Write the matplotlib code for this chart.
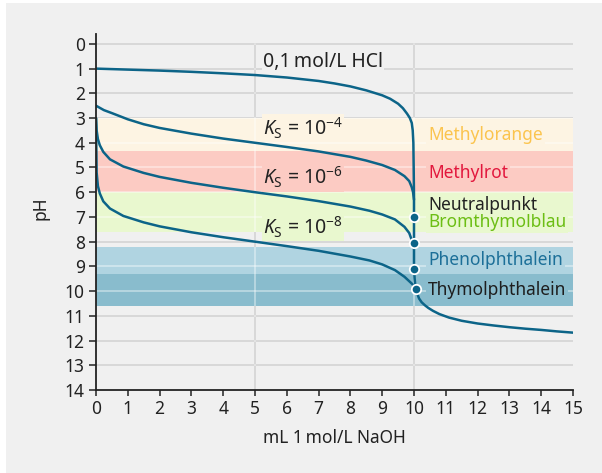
import matplotlib
matplotlib.use("Agg")
import matplotlib.pyplot as plt
from matplotlib.patches import Rectangle

plt.rcParams['font.family'] = ['Noto Sans', 'DejaVu Sans']
plt.rcParams['mathtext.fontset'] = 'custom'
plt.rcParams['mathtext.rm'] = 'Noto Sans'
plt.rcParams['mathtext.it'] = 'Noto Sans:italic'

# titration curves (mL NaOH, pH)
hcl_ml = [0, 1, 2, 3, 4, 5, 6, 7, 7.5, 8, 8.5, 9, 9.25, 9.5, 9.65, 9.78, 9.87,
          9.93, 9.96, 9.98, 9.99, 10.0, 10.0, 10.02, 10.04, 10.06, 10.1, 10.16,
          10.24, 10.35, 10.45, 10.6, 10.8, 11.1, 11.5, 12.0, 12.5, 13.0, 13.5,
          14.0, 14.5, 15.0]
hcl_ph = [1.0, 1.04, 1.08, 1.13, 1.19, 1.26, 1.36, 1.5, 1.6, 1.72, 1.88, 2.08,
          2.22, 2.42, 2.6, 2.82, 3.0, 3.2, 3.5, 4.0, 5.0, 6.2, 9.1, 9.5, 9.75,
          9.9, 10.1, 10.3, 10.45, 10.58, 10.68, 10.8, 10.93, 11.07, 11.2, 11.31,
          11.39, 11.46, 11.52, 11.57, 11.63, 11.68]

ks4_ml = [0, 0.25, 0.5, 1, 1.5, 2, 3, 4, 5, 6, 7, 8, 8.5, 9, 9.4, 9.7, 9.85,
          9.93, 9.97, 10.0]
ks4_ph = [2.5, 2.68, 2.8, 3.05, 3.25, 3.4, 3.63, 3.83, 4.0, 4.17, 4.35, 4.57,
          4.72, 4.9, 5.1, 5.35, 5.55, 5.8, 6.0, 6.3]

ks6_ml = [0, 0.02, 0.06, 0.12, 0.23, 0.44, 0.86, 1.5, 2, 3, 4, 5, 6, 7, 8,
          8.6, 9, 9.4, 9.7, 9.85, 9.92, 9.97, 10.0]
ks6_ph = [3.0, 3.5, 3.85, 4.1, 4.37, 4.67, 4.96, 5.22, 5.38, 5.62, 5.82, 6.0,
          6.17, 6.36, 6.58, 6.75, 6.9, 7.1, 7.4, 7.65, 7.9, 8.05, 8.3]

ks8_ml = [0, 0.02, 0.06, 0.12, 0.23, 0.44, 0.86, 1.5, 2, 3, 4, 5, 6, 7, 8,
          8.6, 9, 9.4, 9.7, 9.85, 9.95, 10.01, 10.06]
ks8_ph = [3.0, 5.2, 5.75, 6.05, 6.37, 6.66, 6.96, 7.22, 7.38, 7.62, 7.82, 8.0,
          8.18, 8.37, 8.6, 8.76, 8.92, 9.15, 9.42, 9.6, 9.72, 9.83, 9.9]

# equivalence points
eq_ml = [10.0, 10.0, 10.0, 10.06]
eq_ph = [7.0, 8.07, 9.1, 9.9]

# indicator ranges
ind_names = ['Methylorange', 'Methylrot', 'Bromthymolblau', 'Phenolphthalein', 'Thymolphthalein']
ind_lo = [3.0, 4.35, 6.0, 8.2, 9.3]
ind_hi = [4.35, 6.0, 7.6, 9.3, 10.6]
ind_band = ['#fdf4e3', '#fccbc3', '#e9f8cf', '#b0d4e1', '#89bccd']
ind_text = ['#fbc44e', '#e2173d', '#6cbe14', '#1c6f98', '#1e1e1e']
ind_label_ph = [3.68, 5.22, 7.22, 8.74, 9.94]

curve_labels = ['0,1\u2009mol/L HCl', r'$K_\mathrm{S}$ = $\mathrm{10}^{-4}$',
                r'$K_\mathrm{S}$ = $\mathrm{10}^{-6}$', r'$K_\mathrm{S}$ = $\mathrm{10}^{-8}$']
curve_label_ph = [0.72, 3.42, 5.42, 7.42]
curve_label_bg = ['#f0f0f0', '#fdf4e3', '#fccbc3', '#e9f8cf']

bg = '#f0f0f0'
line_c = '#0c6488'
dark = '#222222'

fig = plt.figure(figsize=(6.02, 4.73), dpi=100)
fig.patch.set_facecolor('white')
fig.patches.append(Rectangle((6 / 602, 0), 1, 1 - 3 / 473, transform=fig.transFigure,
                             facecolor=bg, edgecolor='none', zorder=-10))

ax = fig.add_axes([96 / 602, 83 / 473, 477 / 602, 356 / 473])
ax.set_facecolor(bg)
ax.set_xlim(0, 15)
ax.set_ylim(14, -0.4)

# grid: grey below the bands, whitish veil on top
for p in range(0, 14):
    ax.plot([0, 15], [p, p], color='#b8b8b8', lw=1.2, zorder=0.5)
    ax.plot([0, 15], [p, p], color='white', alpha=0.45, lw=1.2, zorder=1.5)
for v in [5, 10]:
    ax.plot([v, v], [0, 14], color='#b8b8b8', lw=1.2, zorder=0.5)
    ax.plot([v, v], [0, 14], color='white', alpha=0.45, lw=1.2, zorder=1.5)

for lo, hi, c in zip(ind_lo, ind_hi, ind_band):
    ax.axhspan(lo, hi, xmin=0, xmax=1, facecolor=c, edgecolor='none', zorder=1)

for xs, ys in [(hcl_ml, hcl_ph), (ks4_ml, ks4_ph), (ks6_ml, ks6_ph), (ks8_ml, ks8_ph)]:
    ax.plot(xs, ys, color=line_c, lw=1.8, zorder=3, solid_joinstyle='round',
            solid_capstyle='round')

ax.plot(eq_ml, eq_ph, 'o', ms=6.8, mfc=line_c, mec='white', mew=1.3, zorder=4)

for name, yp, tc, bc in zip(ind_names, ind_label_ph, ind_text, ind_band):
    ax.text(10.44, yp, name, color=tc, fontsize=12.5, ha='left', va='center', zorder=2,
            bbox=dict(facecolor=bc, edgecolor='none', pad=1.5))
ax.text(10.44, 6.5, 'Neutralpunkt', color=dark, fontsize=12.5, ha='left', va='center',
        zorder=2, bbox=dict(facecolor=ind_band[2], edgecolor='none', pad=0.5))

for lab, yp, bc in zip(curve_labels, curve_label_ph, curve_label_bg):
    ax.text(5.25, yp, lab, color=dark, fontsize=14, ha='left', va='center', zorder=2,
            bbox=dict(facecolor=bc, edgecolor='none', pad=1.0))

for s in ['top', 'right']:
    ax.spines[s].set_visible(False)
for s in ['left', 'bottom']:
    ax.spines[s].set_color(dark)
    ax.spines[s].set_linewidth(1.3)
    ax.spines[s].set_zorder(5)
ax.spines['left'].set_bounds(14, -0.4)

ax.set_xticks(range(0, 16))
ax.set_yticks(range(0, 15))
ax.tick_params(axis='both', colors=dark, labelsize=12.5, width=1.1)
ax.tick_params(axis='y', length=5, pad=3)
ax.tick_params(axis='x', length=4.5, pad=3)

ax.set_xlabel('mL 1\u2009mol/L NaOH', fontsize=12.5, color=dark)
ax.xaxis.set_label_coords(0.5, -0.11)
ax.set_ylabel('pH', fontsize=12.5, color=dark)
ax.yaxis.set_label_coords(-0.098, 0.51)

fig.savefig('out.png', dpi=100, facecolor=fig.get_facecolor())
